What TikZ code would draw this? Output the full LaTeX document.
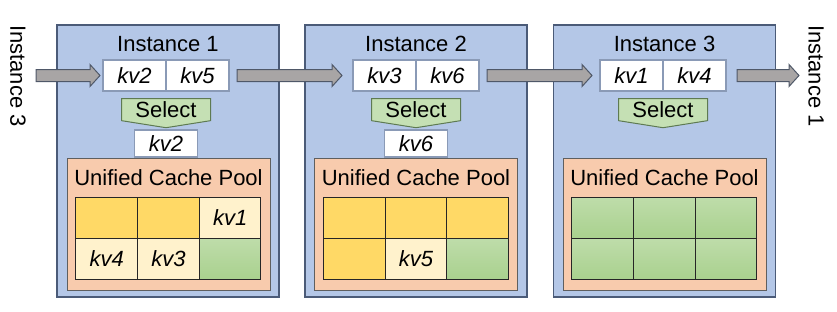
\documentclass[tikz,border=0pt]{standalone}
\usepackage{fontspec}
\setmainfont{Liberation Sans}
\usetikzlibrary{positioning,calc,shapes.symbols}

\definecolor{instfill}{HTML}{B4C7E7}
\definecolor{instline}{HTML}{4B5B78}
\definecolor{poolfill}{HTML}{F8CBAD}
\definecolor{poolline}{HTML}{5F5F5F}
\definecolor{kvline}{HTML}{8A9AB6}
\definecolor{usedfill}{HTML}{FFD966}
\definecolor{kvfill}{HTML}{FFF2CC}
\definecolor{freefill}{HTML}{A9D18E}
\definecolor{selfill}{HTML}{C5E0B4}
\definecolor{selline}{HTML}{5E7A52}
\definecolor{arrfill}{HTML}{A8A5A5}
\definecolor{arrline}{HTML}{4F5868}

\tikzset{
  txt/.style={font=\fontsize{22}{26}\selectfont},
  instance/.style={draw=instline,line width=1.2pt,fill=instfill,minimum width=222pt,minimum height=272pt,inner sep=0pt},
  pool/.style={draw=poolline,line width=1pt,fill=poolfill,minimum width=203pt,minimum height=132pt,inner sep=0pt},
  kv/.style={draw=kvline,line width=1.5pt,fill=white,minimum width=63pt,minimum height=31pt,inner sep=0pt,outer sep=0pt,font=\fontsize{22}{26}\selectfont\itshape},
  pick/.style={kv,minimum height=27pt},
  select/.style={signal,signal to=south,signal from=nowhere,signal pointer angle=162,draw=selline,line width=1pt,fill=selfill,minimum width=89pt,minimum height=27pt,inner sep=0pt,txt},
  cell/.style={draw=black!85,line width=1pt,minimum width=61.67pt,minimum height=41pt,inner sep=0pt,outer sep=0pt,font=\fontsize{22}{26}\selectfont\itshape},
  cellused/.style={cell,fill=usedfill},
  cellkv/.style={cell,fill=kvfill},
  cellfree/.style={cell,top color=freefill!75!white,bottom color=freefill},
  flow/.style={draw=arrline,line width=1pt,fill=arrfill,line join=miter}
}

% fat grey arrow from #1 to the tip #2
\newcommand{\blockarrow}[2]{%
  \draw[flow] ($(#1)+(0,-6)$) -- ($(#2)+(-10,-6)$) -- ($(#2)+(-10,-11)$) -- (#2)
    -- ($(#2)+(-10,11)$) -- ($(#2)+(-10,6)$) -- ($(#1)+(0,6)$) -- cycle;}

\begin{document}
\begin{tikzpicture}[x=1pt,y=-1pt]
  \useasboundingbox (0,0) rectangle (837,311);

  % instance 1
  \node[instance] (inst1) at (168,161) {};
  \node[txt] (name1) at (168,44) {Instance 1};
  \node[kv] (kv1a) at (134.5,75.5) {kv2};
  \node[kv,right=0pt of kv1a] (kv1b) {kv5};
  \node[select,below=7pt of kv1a.south east] (sel1) {Select};
  \node[pick,below=2pt of sel1] (pick1) {kv2};
  \node[pool] (pool1) at (168.5,224) {};
  \node[txt] (title1) at (168.5,178) {Unified Cache Pool};
  \node[cellused] (c1a) at (106.8,217.5) {};
  \node[cellused,right=0pt of c1a] (c1b) {};
  \node[cellkv,right=0pt of c1b] (c1c) {kv1};
  \node[cellkv,below=0pt of c1a] (c1d) {kv4};
  \node[cellkv,right=0pt of c1d] (c1e) {kv3};
  \node[cellfree,right=0pt of c1e] (c1f) {};

  % instance 2
  \node[instance] (inst2) at (416,161) {};
  \node[txt] (name2) at (416,44) {Instance 2};
  \node[kv] (kv2a) at (384.5,75.5) {kv3};
  \node[kv,right=0pt of kv2a] (kv2b) {kv6};
  \node[select,below=7pt of kv2a.south east] (sel2) {Select};
  \node[pick,below=2pt of sel2] (pick2) {kv6};
  \node[pool] (pool2) at (416,224) {};
  \node[txt] (title2) at (416,178) {Unified Cache Pool};
  \node[cellused] (c2a) at (354.3,217.5) {};
  \node[cellused,right=0pt of c2a] (c2b) {};
  \node[cellused,right=0pt of c2b] (c2c) {};
  \node[cellused,below=0pt of c2a] (c2d) {};
  \node[cellkv,right=0pt of c2d] (c2e) {kv5};
  \node[cellfree,right=0pt of c2e] (c2f) {};

  % instance 3
  \node[instance] (inst3) at (664.5,161) {};
  \node[txt] (name3) at (664.5,44) {Instance 3};
  \node[kv] (kv3a) at (631.5,75.5) {kv1};
  \node[kv,right=0pt of kv3a] (kv3b) {kv4};
  \node[select,below=7pt of kv3a.south east] (sel3) {Select};
  \node[pool] (pool3) at (664.5,224) {};
  \node[txt] (title3) at (664.5,178) {Unified Cache Pool};
  \node[cellfree] (c3a) at (602.8,217.5) {};
  \node[cellfree,right=0pt of c3a] (c3b) {};
  \node[cellfree,right=0pt of c3b] (c3c) {};
  \node[cellfree,below=0pt of c3a] (c3d) {};
  \node[cellfree,right=0pt of c3d] (c3e) {};
  \node[cellfree,right=0pt of c3e] (c3f) {};

  % neighbours in the ring
  \node[txt,rotate=-90] (prev) at (18,76) {Instance 3};
  \node[txt,rotate=-90] (next) at (816,76) {Instance 1};

  % passing the kv blocks along
  \coordinate (src) at (36,75.5);
  \coordinate (dst) at (799,75.5);
  \coordinate[left=3pt of kv1a] (in1);
  \coordinate[right=8pt of kv1b] (out1);
  \coordinate[left=11pt of kv2a] (in2);
  \coordinate[right=8pt of kv2b] (out2);
  \coordinate[left=8pt of kv3a] (in3);
  \coordinate[right=11pt of kv3b] (out3);
  \blockarrow{src}{in1}
  \blockarrow{out1}{in2}
  \blockarrow{out2}{in3}
  \blockarrow{out3}{dst}
\end{tikzpicture}
\end{document}
